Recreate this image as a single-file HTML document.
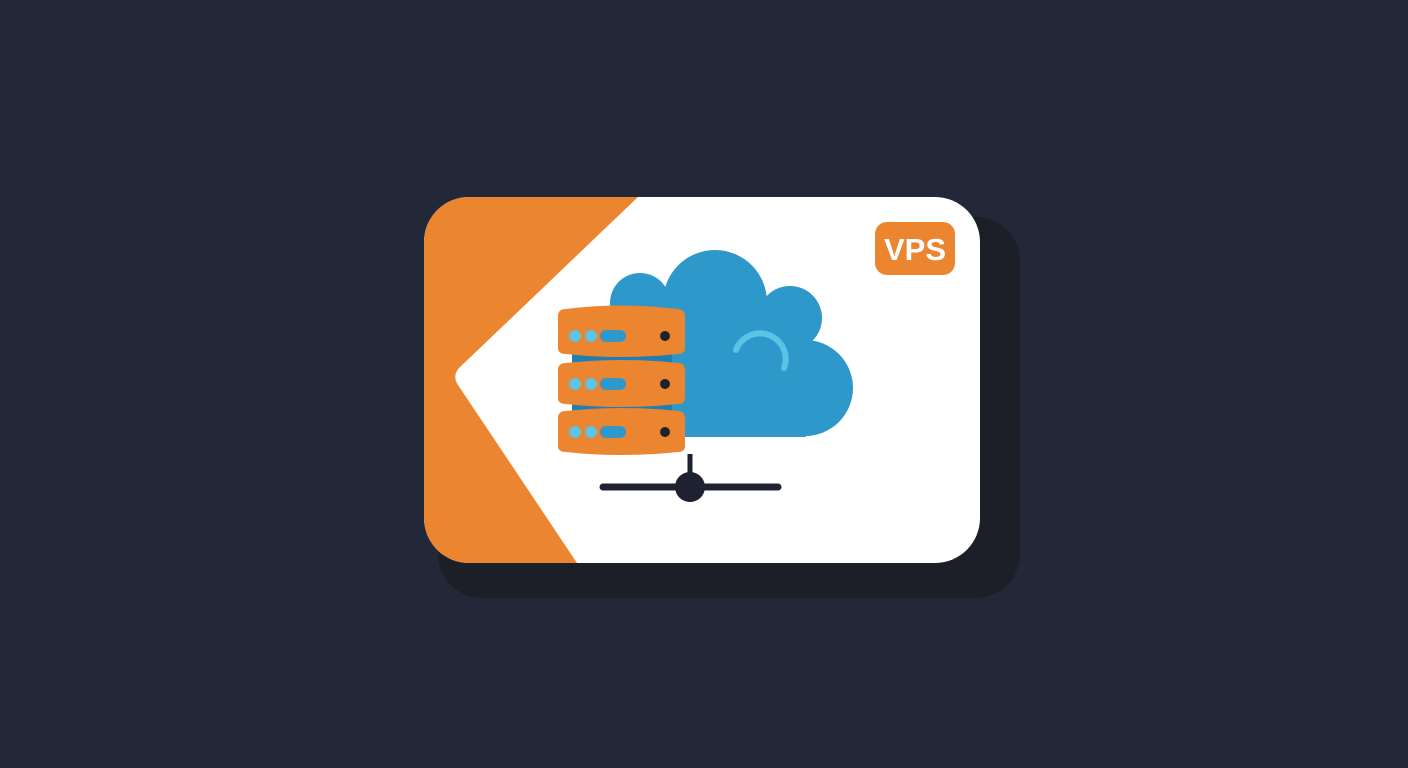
<!DOCTYPE html>
<html><head><style>
html,body{margin:0;padding:0;background:#232838;width:1408px;height:768px;overflow:hidden}
</style></head><body>
<svg width="1408" height="768" viewBox="0 0 1408 768" xmlns="http://www.w3.org/2000/svg">
<rect x="0" y="0" width="1408" height="768" fill="#232838"/>
<rect x="438" y="217" width="582" height="381" rx="44" fill="#1c1f28"/>
<clipPath id="c"><rect x="424" y="197" width="556" height="366" rx="45"/></clipPath>
<g clip-path="url(#c)">
<rect x="424" y="197" width="556" height="366" fill="#ffffff"/>
<path d="M424 197 L638 197 L459 368 Q452 376 458 385 L577 563 L424 563 Z" fill="#ec8530"/>
</g>
<rect x="875" y="222" width="80" height="53" rx="12" fill="#ec8530"/>
<text x="915" y="260" text-anchor="middle" font-family="Liberation Sans, sans-serif" font-weight="bold" font-size="31" fill="#fff">VPS</text>
<g fill="#2e98cb">
<circle cx="640" cy="303" r="30"/>
<circle cx="715" cy="302" r="52"/>
<circle cx="790" cy="318" r="32"/>
<circle cx="805" cy="388" r="48"/>
<rect x="611" y="300" width="195" height="137"/>
</g>
<path d="M736 350 A24 24 0 0 1 784 368" fill="none" stroke="#5bc3e6" stroke-width="6" stroke-linecap="round"/>
<rect x="572" y="340" width="100" height="90" fill="#1f7fb5"/>
<g>
<path d="M558 316 Q558 309 566 309 Q620 302 678 309 Q685 310 685 316 L685 348 Q685 354 678 354 Q620 360 566 354 Q558 354 558 348 Z" fill="#ec8530"/>
<path d="M558 370 Q558 363 566 363 Q620 357 678 363 Q685 363 685 370 L685 398 Q685 404 678 404 Q620 410 566 404 Q558 404 558 398 Z" fill="#ec8530"/>
<path d="M558 418 Q558 411 566 411 Q620 405 678 411 Q685 411 685 418 L685 446 Q685 452 678 452 Q620 458 566 452 Q558 452 558 446 Z" fill="#ec8530"/>
</g>
<g fill="#5bc3e6">
<circle cx="575" cy="336" r="6"/><circle cx="591" cy="336" r="6"/>
<circle cx="575" cy="384" r="6"/><circle cx="591" cy="384" r="6"/>
<circle cx="575" cy="432" r="6"/><circle cx="591" cy="432" r="6"/>
</g>
<g fill="#2e98cb">
<rect x="600" y="330" width="26" height="12" rx="6"/>
<rect x="600" y="378" width="26" height="12" rx="6"/>
<rect x="600" y="426" width="26" height="12" rx="6"/>
</g>
<g fill="#1e2230">
<circle cx="665" cy="336" r="5"/><circle cx="665" cy="384" r="5"/><circle cx="665" cy="432" r="5"/>
</g>
<line x1="690" y1="454" x2="690" y2="480" stroke="#1e2230" stroke-width="5"/>
<line x1="603" y1="487" x2="778" y2="487" stroke="#1e2230" stroke-width="7" stroke-linecap="round"/>
<circle cx="690" cy="487" r="15" fill="#1e2230"/>
</svg>
</body></html>
